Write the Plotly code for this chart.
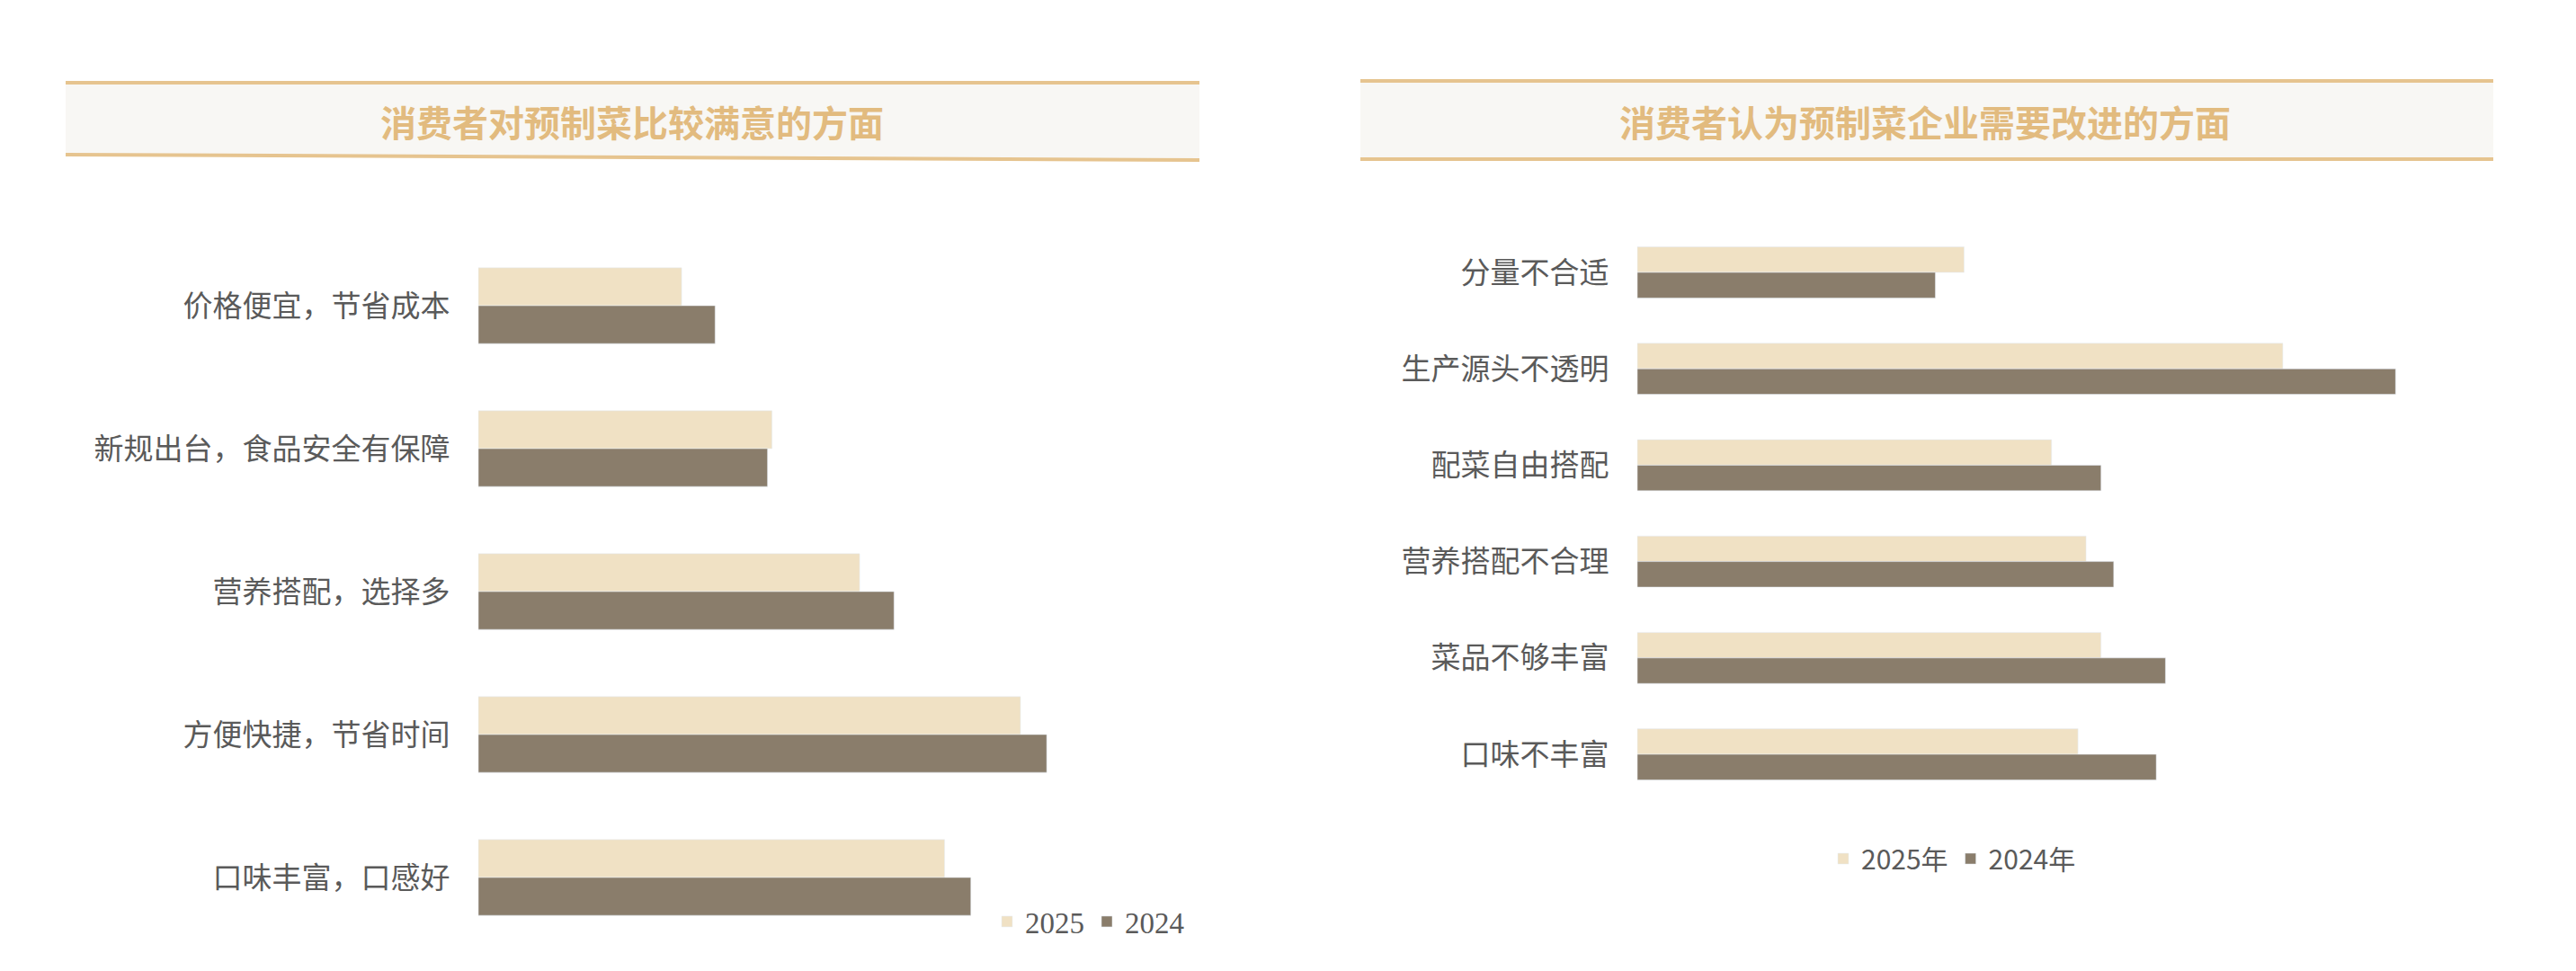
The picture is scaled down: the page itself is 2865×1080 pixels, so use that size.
import plotly.graph_objects as go

W, H = 2865, 1080

# ---- data ----
left_title = "消费者对预制菜比较满意的方面"
left_categories = ["价格便宜，节省成本", "新规出台，食品安全有保障", "营养搭配，选择多",
                   "方便快捷，节省时间", "口味丰富，口感好"]
left_2025 = [22.5, 32.5, 42.2, 60.0, 51.6]
left_2024 = [26.2, 32.0, 46.0, 62.9, 54.5]
left_series_names = ["2025", "2024"]

right_title = "消费者认为预制菜企业需要改进的方面"
right_categories = ["分量不合适", "生产源头不透明", "配菜自由搭配", "营养搭配不合理",
                    "菜品不够丰富", "口味不丰富"]
right_2025 = [28.4, 56.1, 36.0, 39.0, 40.3, 38.3]
right_2024 = [25.9, 65.9, 40.3, 41.4, 45.9, 45.1]
right_series_names = ["2025年", "2024年"]

C_LIGHT = "#f0e1c4"
C_DARK = "#8a7d6b"
GOLD = "#e6c48f"
TITLE_GOLD = "#e2bb7f"
LABEL = "#5a5a5a"
CJK = "Noto Sans CJK SC"


def px(x):
    return x / W


def py(y):
    return 1 - y / H


fig = go.Figure()

fig.add_trace(go.Bar(y=left_categories, x=left_2025, name=left_series_names[0], orientation="h",
                     marker=dict(color=C_LIGHT), xaxis="x", yaxis="y", legend="legend"))
fig.add_trace(go.Bar(y=left_categories, x=left_2024, name=left_series_names[1], orientation="h",
                     marker=dict(color=C_DARK), xaxis="x", yaxis="y", legend="legend"))
fig.add_trace(go.Bar(y=right_categories, x=right_2025, name=right_series_names[0], orientation="h",
                     marker=dict(color=C_LIGHT), xaxis="x2", yaxis="y2", legend="legend2"))
fig.add_trace(go.Bar(y=right_categories, x=right_2024, name=right_series_names[1], orientation="h",
                     marker=dict(color=C_DARK), xaxis="x2", yaxis="y2", legend="legend2"))

axis_common = dict(showgrid=False, zeroline=False, showline=False)

fig.update_layout(
    width=W, height=H,
    margin=dict(l=0, r=0, t=0, b=0),
    paper_bgcolor="white", plot_bgcolor="rgba(0,0,0,0)",
    barmode="group", bargap=0.47, bargroupgap=0,
    xaxis=dict(domain=[px(532), px(1336)], range=[0, 80], showticklabels=False, anchor="y", **axis_common),
    yaxis=dict(domain=[py(1055.5), py(260.5)], autorange="reversed", anchor="x",
               tickfont=dict(family=CJK, size=33, color=LABEL), ticks="outside",
               ticklen=24, tickcolor="rgba(0,0,0,0)", **axis_common),
    xaxis2=dict(domain=[px(1821), px(2768)], range=[0, 74], showticklabels=False, anchor="y2", **axis_common),
    yaxis2=dict(domain=[py(892.6), py(249.4)], autorange="reversed", anchor="x2",
                tickfont=dict(family=CJK, size=33, color=LABEL), ticks="outside",
                ticklen=24, tickcolor="rgba(0,0,0,0)", **axis_common),
    legend=dict(orientation="h", x=px(1100), y=py(1025), xanchor="left", yanchor="middle",
                font=dict(family="Liberation Serif", size=33, color=LABEL),
                bgcolor="rgba(0,0,0,0)", itemwidth=30),
    legend2=dict(orientation="h", x=px(2030), y=py(955), xanchor="left", yanchor="middle",
                 font=dict(family=CJK, size=30, color=LABEL),
                 bgcolor="rgba(0,0,0,0)", itemwidth=30),
    showlegend=True,
)

shapes = []
# title boxes
for (x0, x1, yt, yb_l, yb_r) in [(73, 1334, 92, 172, 178), (1513, 2773, 90, 177, 177)]:
    shapes.append(dict(type="path", xref="paper", yref="paper",
                       path=f"M {px(x0)},{py(yt)} L {px(x1)},{py(yt)} L {px(x1)},{py(yb_r)} L {px(x0)},{py(yb_l)} Z",
                       fillcolor="#f8f7f4", line=dict(width=0), layer="below"))
    shapes.append(dict(type="line", xref="paper", yref="paper", x0=px(x0), x1=px(x1),
                       y0=py(yt), y1=py(yt), line=dict(color=GOLD, width=4)))
    shapes.append(dict(type="line", xref="paper", yref="paper", x0=px(x0), x1=px(x1),
                       y0=py(yb_l), y1=py(yb_r), line=dict(color=GOLD, width=4)))
fig.update_layout(shapes=shapes)

fig.add_annotation(text=f"<b>{left_title}</b>", x=px(703), y=py(135), xref="paper", yref="paper",
                   showarrow=False, xanchor="center", yanchor="middle",
                   font=dict(family=CJK, size=40, color=TITLE_GOLD))
fig.add_annotation(text=f"<b>{right_title}</b>", x=px(2141), y=py(135), xref="paper", yref="paper",
                   showarrow=False, xanchor="center", yanchor="middle",
                   font=dict(family=CJK, size=40, color=TITLE_GOLD))

fig.write_html("out.html")
